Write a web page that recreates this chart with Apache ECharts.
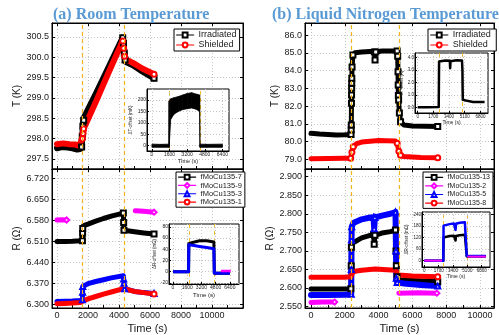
<!DOCTYPE html>
<html>
<head>
<meta charset="utf-8">
<script src="https://cdn.jsdelivr.net/npm/echarts@6/dist/echarts.min.js"></script>
<style>
  html, body { margin: 0; padding: 0; background: #fff; }
  #chart { width: 499px; height: 335px; }
</style>
</head>
<body>
<div id="chart"></div>
<script>
// ---- values ----
// tick labels
const timeTicks = [0, 2000, 4000, 6000, 8000, 10000];
const timeTicksFine = [0, 1000, 2000, 3000, 4000, 5000, 6000, 7000, 8000, 9000, 10000, 11000, 12000];
const roomTTicks = [297.5, 298.0, 298.5, 299.0, 299.5, 300.0, 300.5];
const roomRTicks = [6.300, 6.370, 6.440, 6.510, 6.580, 6.650, 6.720];
const lnTTicks = [79, 80, 81, 82, 83, 84, 85, 86];
const lnRTicks = [2.55, 2.60, 2.65, 2.70, 2.75, 2.80, 2.85, 2.90];
const roomInsetTime = [0, 1600, 3200, 4800, 6400];
const lnInsetTime = [0, 1700, 3400, 5100, 6800];
const roomDtTicks = [0, 50, 100, 150, 200];
const roomDrTicks = [-20, 0, 20, 40, 60, 80];
const lnDtTicks = [0, 1, 2, 3, 4];
const lnDrTicks = [0, 60, 120, 180, 240];

// (a) room temperature, T (K)
const roomIrr = [[0,297.76],[300,297.79],[700,297.78],[1000,297.76],[1300,297.73],[1500,297.74],[1590,297.79],[1630,298.05],[1670,298.3],[1720,298.45],[1760,298.53],[2500,299.1],[3300,299.73],[4240,300.48],[4290,300.34],[4340,300.1],[4390,299.93],[4450,299.88],[4900,299.8],[5500,299.65],[6260,299.48]];
const roomShd = [[0,297.86],[400,297.88],[800,297.86],[1200,297.85],[1400,297.82],[1500,297.88],[1580,297.97],[1640,298.0],[1680,298.12],[1720,298.24],[2500,298.9],[3300,299.6],[4240,300.4],[4300,300.22],[4360,300.02],[4420,299.95],[4900,299.86],[5500,299.72],[6260,299.58]];
// inset: dT-offset (mK), noisy band given by its lower / upper edge
const roomDtTime = [0, 800, 1540, 1560, 1700, 2000, 2400, 2800, 3200, 3600, 4000, 4330, 4360, 5000, 6400];
const roomDtLow = [-7, -7, -7, -7, 115, 138, 150, 158, 162, 165, 160, 150, -7, -7, -7];
const roomDtHigh = [7, 6, 7, 195, 205, 210, 215, 222, 228, 232, 226, 222, 7, 6, 7];

// (a) room temperature, R (ohm)
const roomR7 = [[0,6.509],[500,6.509],[1000,6.510],[1500,6.512],[1640,6.512],[1650,6.537],[1660,6.553],[1700,6.562],[2000,6.567],[2500,6.577],[3000,6.586],[3500,6.594],[4280,6.604],[4300,6.573],[4320,6.547],[4400,6.547],[5000,6.542],[5600,6.538],[6260,6.534]];
const roomR9a = [[0,6.581],[300,6.582],[620,6.581]];
const roomR9b = [[5050,6.612],[5600,6.610],[6260,6.607]];
const roomR3 = [[0,6.309],[500,6.310],[1000,6.311],[1500,6.313],[1640,6.315],[1650,6.340],[1660,6.359],[1700,6.364],[2000,6.369],[2500,6.376],[3000,6.382],[3500,6.388],[4280,6.395],[4300,6.384],[4320,6.370],[4360,6.352],[4400,6.347],[5000,6.343],[5600,6.339],[6260,6.336]];
const roomR1 = [[0,6.302],[500,6.303],[1000,6.304],[1500,6.306],[1650,6.310],[2000,6.318],[2500,6.326],[3000,6.334],[3500,6.341],[4280,6.352],[4400,6.347],[5000,6.343],[5600,6.339],[6260,6.334]];
// inset: dR-offset (mOhm)
const roomDr7 = [[0,0],[1750,0],[1780,50],[2200,52],[3000,55],[3800,55],[4600,53],[4650,-3],[5000,-3],[6400,-3]];
const roomDr3 = [[0,0],[1750,0],[1780,48],[2200,47],[3000,45],[3800,43],[4600,41],[4650,-3],[5000,-3],[6400,-3]];
const roomDr9 = [[5400,1],[6500,1]];

// (b) liquid nitrogen, T (K)
const lnIrr = [[0,80.46],[500,80.42],[1000,80.40],[1500,80.37],[2000,80.38],[2370,80.40],[2380,80.65],[2385,80.93],[2395,82.15],[2400,82.62],[2405,83.0],[2410,83.28],[2415,83.56],[2430,84.2],[2480,84.87],[2600,85.0],[3000,85.05],[3500,85.08],[3750,85.05],[3790,84.6],[3830,85.05],[4200,85.1],[4700,85.1],[5100,85.1],[5130,84.8],[5150,83.93],[5160,83.18],[5170,82.6],[5185,82.34],[5230,81.6],[5300,81.12],[5500,80.93],[6000,80.88],[6800,80.86],[7500,80.85]];
const lnShd = [[0,79.03],[1000,79.04],[2000,79.05],[2350,79.06],[2420,79.4],[2500,79.7],[2700,79.88],[3000,79.97],[3500,80.02],[4000,80.05],[4500,80.04],[5000,80.03],[5100,79.9],[5200,79.45],[5300,79.22],[5500,79.15],[6500,79.10],[7500,79.08]];
// inset: dT-offset (K)
const lnDt = [[0,0],[1000,0.01],[2280,0.02],[2320,3.7],[2500,3.75],[3000,3.78],[3480,3.76],[3520,3.15],[3560,3.72],[4200,3.8],[4800,3.78],[4850,3.0],[4870,1.5],[4890,0.6],[4950,0.45],[6000,0.42],[7250,0.42]];

// (b) liquid nitrogen, R (ohm)
const lnR13 = [[0,2.597],[1000,2.597],[2000,2.597],[2360,2.598],[2380,2.66],[2390,2.71],[2420,2.72],[2500,2.722],[3000,2.735],[3500,2.742],[3700,2.745],[3740,2.718],[3780,2.742],[4200,2.748],[4700,2.752],[5000,2.756],[5030,2.70],[5050,2.66],[5090,2.63],[5200,2.622],[6000,2.620],[7000,2.618],[7500,2.617]];
const lnR2a = [[0,2.561],[700,2.562],[1400,2.562]];
const lnR2b = [[5200,2.586],[6300,2.587],[7450,2.586]];
const lnR5 = [[0,2.581],[1000,2.581],[2000,2.582],[2380,2.583],[2390,2.65],[2400,2.73],[2410,2.765],[2500,2.775],[3000,2.785],[3500,2.79],[3700,2.79],[3740,2.76],[3780,2.79],[4200,2.795],[4700,2.80],[5000,2.805],[5030,2.70],[5050,2.626],[5100,2.615],[5500,2.612],[6500,2.608],[7500,2.605]];
const lnR8 = [[0,2.629],[1000,2.629],[2000,2.629],[2350,2.630],[2450,2.640],[2600,2.645],[3000,2.648],[3800,2.651],[4500,2.649],[5000,2.648],[5100,2.642],[5200,2.635],[6000,2.632],[7500,2.630]];
// inset: dR-offset (mOhm)
const lnDr13 = [[0,0],[2250,0],[2280,120],[2500,122],[3000,128],[3500,130],[3650,128],[3700,105],[3750,128],[4200,132],[4800,135],[5000,135],[5030,22],[6000,22],[7300,22]];
const lnDr5 = [[0,0],[2250,0],[2280,182],[2500,186],[3000,190],[3500,193],[3650,192],[3700,160],[3750,192],[4200,197],[4800,200],[5000,201],[5030,25],[6000,24],[7300,24]];
const lnDr2a = [[0,0],[2100,0]];
const lnDr2b = [[5100,21],[7300,21]];

// irradiation on / off marks (s)
const roomDash = [1600, 4340];
const lnDash = [2400, 5200];
const roomDtDash = [1560, 4355];
const roomDrDash = [1790, 4700];
const lnDtDash = [2320, 4860];
const lnDrDash = [2250, 5030];

// ---- layout ----
const FONT = 'Liberation Sans';
const DASH = '#f3b41b';
const G = {
  lt: { left: 52, top: 23, width: 191, height: 146, x: [-323, 12000], y: [297.25, 300.84] },
  lb: { left: 52, top: 169, width: 191, height: 139, x: [-323, 12000], y: [6.2877, 6.751] },
  rt: { left: 305, top: 23, width: 189, height: 146, x: [-355, 10830], y: [78.45, 86.68] },
  rb: { left: 305, top: 169, width: 189, height: 139, x: [-355, 10830], y: [2.546, 2.9208] },
  a: { left: 147, top: 89, width: 82, height: 62, x: [-450, 7000], y: [-23, 248] },
  b: { left: 169, top: 224, width: 70, height: 60, x: [-450, 7430], y: [-22, 85] },
  c: { left: 415, top: 53, width: 73, height: 60, x: [-290, 7620], y: [-0.46, 4.38] },
  d: { left: 422, top: 212, width: 68, height: 55, x: [-275, 7780], y: [-33, 253] }
};
const order = ['lt', 'lb', 'rt', 'rb', 'a', 'b', 'c', 'd'];

const grids = order.map((k, i) => ({
  left: G[k].left, top: G[k].top, width: G[k].width, height: G[k].height,
  show: true, borderColor: '#000', borderWidth: 1,
  backgroundColor: i >= 4 ? '#fff' : 'transparent',
  z: i >= 4 ? 5 : 0
}));

function mkAxis(dim, key, pos, o) {
  const gi = order.indexOf(key);
  return {
    type: 'value', gridIndex: gi, position: pos,
    min: G[key][dim][0], max: G[key][dim][1],
    axisLine: { show: true, onZero: false, lineStyle: { color: '#000', width: 1 } },
    axisTick: { show: !!o.ticks, inside: true, length: o.tl || 3, customValues: o.ticks, lineStyle: { color: '#000', width: 1 } },
    axisLabel: {
      show: !!o.labels, customValues: o.labels, formatter: o.fmt,
      fontFamily: FONT, fontSize: o.fs || 9, color: '#1a1a1a', margin: o.margin == null ? 3 : o.margin
    },
    splitLine: { show: !!o.split, lineStyle: { color: '#c4c4c4', width: 1, type: [1, 2] } },
    name: o.name || '', nameLocation: 'middle', nameGap: o.gap || 0,
    nameTextStyle: { fontFamily: FONT, fontSize: o.nfs || 10, color: '#1a1a1a' },
    z: gi >= 4 ? 6 : 1
  };
}

const f1 = v => v.toFixed(1);
const f3 = v => v.toFixed(3);
const fi = v => String(v);

const xAxes = [
  mkAxis('x', 'lt', 'bottom', { ticks: timeTicksFine }),
  mkAxis('x', 'lt', 'top', { ticks: timeTicks, split: true }),
  mkAxis('x', 'lb', 'bottom', { ticks: timeTicksFine, labels: timeTicks, fmt: fi, name: 'Time (s)', gap: 15, nfs: 11 }),
  mkAxis('x', 'lb', 'top', { ticks: timeTicks, split: true }),
  mkAxis('x', 'rt', 'bottom', { ticks: timeTicksFine }),
  mkAxis('x', 'rt', 'top', { ticks: timeTicks, split: true }),
  mkAxis('x', 'rb', 'bottom', { ticks: timeTicksFine, labels: timeTicks, fmt: fi, name: 'Time (s)', gap: 15, nfs: 11 }),
  mkAxis('x', 'rb', 'top', { ticks: timeTicks, split: true }),
  mkAxis('x', 'a', 'bottom', { ticks: roomInsetTime, labels: roomInsetTime, fmt: fi, split: true, fs: 5, margin: 1, tl: 2, name: 'Time (s)', gap: 7, nfs: 5.5 }),
  mkAxis('x', 'b', 'bottom', { ticks: roomInsetTime, labels: roomInsetTime, fmt: fi, split: true, fs: 5, margin: 1, tl: 2, name: 'Time (s)', gap: 8, nfs: 6 }),
  mkAxis('x', 'c', 'bottom', { ticks: lnInsetTime, labels: lnInsetTime, fmt: fi, split: true, fs: 4.5, margin: 1, tl: 2, name: 'Time (s)', gap: 6, nfs: 5 }),
  mkAxis('x', 'd', 'bottom', { ticks: lnInsetTime, labels: lnInsetTime, fmt: fi, split: true, fs: 4.5, margin: 1, tl: 2, name: 'Time (s)', gap: 6, nfs: 5 })
];
const yAxes = [
  mkAxis('y', 'lt', 'left', { ticks: roomTTicks, labels: roomTTicks, fmt: f1, split: true, name: 'T (K)', gap: 29 }),
  mkAxis('y', 'lt', 'right', { ticks: roomTTicks }),
  mkAxis('y', 'lb', 'left', { ticks: roomRTicks, labels: roomRTicks, fmt: f3, split: true, name: 'R (\u03a9)', gap: 29 }),
  mkAxis('y', 'lb', 'right', { ticks: roomRTicks }),
  mkAxis('y', 'rt', 'left', { ticks: lnTTicks, labels: lnTTicks, fmt: f1, split: true, name: 'T (K)', gap: 24 }),
  mkAxis('y', 'rt', 'right', { ticks: lnTTicks }),
  mkAxis('y', 'rb', 'left', { ticks: lnRTicks, labels: lnRTicks, fmt: f3, split: true, name: 'R (\u03a9)', gap: 26 }),
  mkAxis('y', 'rb', 'right', { ticks: lnRTicks }),
  mkAxis('y', 'a', 'left', { ticks: roomDtTicks, labels: roomDtTicks, fmt: fi, split: true, fs: 5, margin: 1, tl: 2, name: '\u0394T-offset (mK)', gap: 11, nfs: 4.5 }),
  mkAxis('y', 'b', 'left', { ticks: roomDrTicks, labels: roomDrTicks, fmt: fi, split: true, fs: 5, margin: 1, tl: 2, name: '\u0394R-offset (m\u03a9)', gap: 9, nfs: 4.5 }),
  mkAxis('y', 'c', 'left', { ticks: lnDtTicks, labels: lnDtTicks, fmt: f1, split: true, fs: 4.5, margin: 1, tl: 2, name: '\u0394T-offset (K)', gap: 9, nfs: 4.5 }),
  mkAxis('y', 'd', 'left', { ticks: lnDrTicks, labels: lnDrTicks, fmt: fi, split: true, fs: 4.5, margin: 1, tl: 2, name: '\u0394R-offset (m\u03a9)', gap: 9, nfs: 4.5 })
];

function dashes(times, w) {
  return {
    silent: true, symbol: ['none', 'none'], label: { show: false }, animation: false,
    lineStyle: { color: DASH, type: [4, 3], width: w },
    data: times.map(t => ({ xAxis: t }))
  };
}

// main curves: thick band for the dense runs, hollow markers where the data jump
function mainLine(name, arr, key, color, sym, w, marks) {
  const g = G[key], k = order.indexOf(key);
  const ax = g.width / (g.x[1] - g.x[0]), ay = g.height / (g.y[1] - g.y[0]);
  const data = arr.map((p, i) => {
    const jump = [arr[i - 1], arr[i + 1]].some(q => q &&
      Math.abs(q[1] - p[1]) * ay > 4 && Math.abs(q[0] - p[0]) * ax < 4);
    return (jump || i === arr.length - 1) ? { value: p } : { value: p, symbol: 'none' };
  });
  const s = {
    type: 'line', name, xAxisIndex: 2 * k, yAxisIndex: 2 * k, data,
    symbol: sym, symbolSize: 5, showSymbol: true, showAllSymbol: true,
    lineStyle: { color, width: w, join: 'round', cap: 'round' },
    itemStyle: { color, borderWidth: 1 },
    z: 2, silent: true, animation: false
  };
  if (marks) s.markLine = dashes(marks, 1.2);
  return s;
}

// inset curves (inset key a..d -> axis index 8..11)
function insetLine(name, arr, key, color, w, marks) {
  const j = order.indexOf(key) + 4;
  const s = {
    type: 'line', name, xAxisIndex: j, yAxisIndex: j, data: arr,
    showSymbol: false, symbol: 'none',
    lineStyle: { color, width: w, join: 'round' },
    z: 7, silent: true, animation: false
  };
  if (marks) s.markLine = dashes(marks, 0.9);
  return s;
}

// inset (a): filled band between lower and upper edge, drawn segment by segment
const roomDtBand = {
  type: 'custom', name: 'dT-band', xAxisIndex: 8, yAxisIndex: 8,
  data: roomDtTime.slice(0, -1).map((t, i) =>
    [t, roomDtLow[i], roomDtHigh[i], roomDtTime[i + 1], roomDtLow[i + 1], roomDtHigh[i + 1]]),
  encode: { x: [0, 3], y: [1, 2, 4, 5] },
  renderItem: (params, api) => ({
    type: 'polygon',
    shape: { points: [
      api.coord([api.value(0), api.value(1)]),
      api.coord([api.value(3), api.value(4)]),
      api.coord([api.value(3), api.value(5)]),
      api.coord([api.value(0), api.value(2)])
    ] },
    style: { fill: '#000', stroke: '#000', lineWidth: 0.8 }
  }),
  z: 7, silent: true, animation: false,
  markLine: dashes(roomDtDash, 0.9)
};

const series = [
  mainLine('Irradiated', roomIrr, 'lt', '#000', 'emptyRect', 6),
  mainLine('Shielded', roomShd, 'lt', '#ff0000', 'emptyCircle', 6, roomDash),

  mainLine('fMoCu135-7', roomR7, 'lb', '#000', 'emptyRect', 5),
  mainLine('fMoCu135-9', roomR9a, 'lb', '#ff00ff', 'emptyDiamond', 5),
  mainLine('fMoCu135-9', roomR9b, 'lb', '#ff00ff', 'emptyDiamond', 5),
  mainLine('fMoCu135-3', roomR3, 'lb', '#0000ff', 'emptyTriangle', 5),
  mainLine('fMoCu135-1', roomR1, 'lb', '#ff0000', 'emptyCircle', 5, roomDash),

  mainLine('Irradiated ', lnIrr, 'rt', '#000', 'emptyRect', 5),
  mainLine('Shielded ', lnShd, 'rt', '#ff0000', 'emptyCircle', 5, lnDash),

  mainLine('fMoCu135-13', lnR13, 'rb', '#000', 'emptyRect', 5),
  mainLine('fMoCu135-2', lnR2a, 'rb', '#ff00ff', 'emptyDiamond', 5),
  mainLine('fMoCu135-2', lnR2b, 'rb', '#ff00ff', 'emptyDiamond', 5),
  mainLine('fMoCu135-5', lnR5, 'rb', '#0000ff', 'emptyTriangle', 6),
  mainLine('fMoCu135-8', lnR8, 'rb', '#ff0000', 'emptyCircle', 5, lnDash),

  roomDtBand,

  insetLine('dR7', roomDr7, 'b', '#000', 3),
  insetLine('dR3', roomDr3, 'b', '#0000ff', 3),
  insetLine('dR9', roomDr9, 'b', '#ff00ff', 2.5, roomDrDash),

  insetLine('dTln', lnDt, 'c', '#000', 2.5, lnDtDash),

  insetLine('dR13', lnDr13, 'd', '#000', 2.5),
  insetLine('dR5', lnDr5, 'd', '#0000ff', 2.5),
  insetLine('dR2a', lnDr2a, 'd', '#ff00ff', 2),
  insetLine('dR2b', lnDr2b, 'd', '#ff00ff', 2, lnDrDash)
];

function legendBox(left, top, names, fs, lh) {
  return {
    left, top, orient: 'vertical', data: names,
    itemGap: 0, itemWidth: 17, itemHeight: 6, padding: [1, 3, 1, 2],
    borderColor: '#000', borderWidth: 1, backgroundColor: '#fff',
    lineStyle: { width: 1.2 }, itemStyle: { borderWidth: 1 },
    textStyle: { fontFamily: FONT, fontSize: fs, color: '#1a1a1a', lineHeight: lh },
    selectedMode: false, z: 8
  };
}

const option = {
  animation: false,
  backgroundColor: '#fff',
  title: [
    { text: '(a) Room Temperature', left: 53, top: 7, padding: 0,
      textStyle: { fontFamily: 'Liberation Serif', fontWeight: 'bold', fontSize: 16, color: '#5b9bd5' } },
    { text: '(b) Liquid Nitrogen Temperature', left: 272, top: 7, padding: 0,
      textStyle: { fontFamily: 'Liberation Serif', fontWeight: 'bold', fontSize: 16, color: '#5b9bd5' } }
  ],
  legend: [
    legendBox(174, 29, ['Irradiated', 'Shielded'], 9, 10),
    legendBox(176, 172, ['fMoCu135-7', 'fMoCu135-9', 'fMoCu135-3', 'fMoCu135-1'], 7.5, 8.3),
    legendBox(428, 29, [{ name: 'Irradiated ', lineStyle: { color: '#555', width: 1.5 } }, 'Shielded '], 9, 10),
    legendBox(423, 172, ['fMoCu135-13', 'fMoCu135-2', 'fMoCu135-5', 'fMoCu135-8'], 7, 8.6)
  ],
  grid: grids,
  xAxis: xAxes,
  yAxis: yAxes,
  series
};

const chart = echarts.init(document.getElementById('chart'), null, { renderer: 'canvas' });
chart.setOption(option);
</script>
</body>
</html>
